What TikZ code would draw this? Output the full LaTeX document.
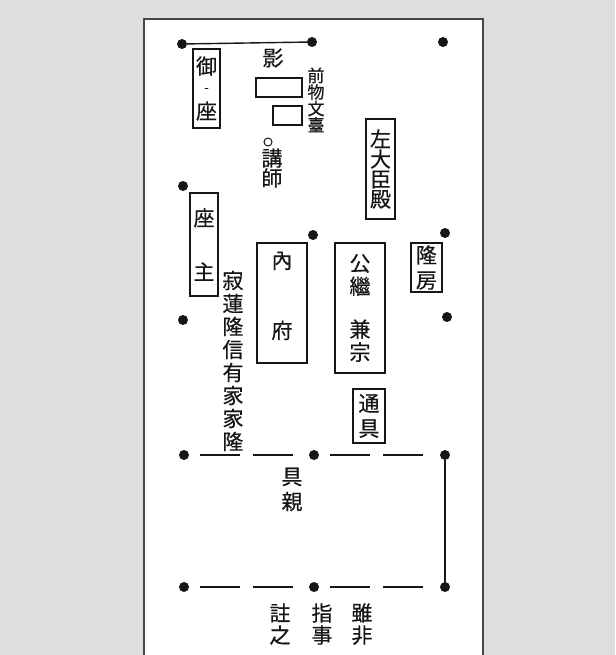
\documentclass[tikz,border=0pt]{standalone}
\usepackage{fontspec}
\newfontfamily\jpfont{Noto Sans CJK JP}[FakeBold=0.4]
\usepackage{xcolor}
\usepackage{tikz}
\usetikzlibrary{positioning}
\definecolor{pagegray}{RGB}{221, 222, 223}
\definecolor{pageedge}{RGB}{70, 70, 72}
\definecolor{inkblack}{RGB}{22, 22, 22}

\tikzset{
  pillar/.style={circle, fill=inkblack, inner sep=0pt, minimum size=10pt},
  seat/.style={draw=inkblack, line width=1.1pt, inner sep=0pt, align=center,
               text=inkblack, font=\jpfont\fontsize{21}{#1}\selectfont},
  tray/.style={draw=inkblack, line width=1.1pt, inner sep=0pt},
  tate/.style={align=center, inner sep=0pt, text=inkblack,
               font=\jpfont\fontsize{21}{#1}\selectfont},
  tatesmall/.style={align=center, inner sep=0pt, text=inkblack,
                    font=\jpfont\fontsize{17}{16.5}\selectfont},
  solidline/.style={draw=inkblack, line width=1.4pt},
  gapline/.style={draw=inkblack, line width=1.8pt, dash pattern=on 40pt off 13pt,
                  shorten <=11pt, shorten >=16pt},
}

\begin{document}
\begin{tikzpicture}[x=1pt, y=-1pt]
\useasboundingbox (0,0) rectangle (615,655);

% Background and page
\fill[pagegray] (0,0) rectangle (615,655);
\fill[white] (144,19) rectangle (483,655);
\draw[pageedge, line width=2pt] (144,655) -- (144,19) -- (483,19) -- (483,655);

% Pillars
\node[pillar] (a1) at (182,44) {};
\node[pillar] (a2) at (183,186) {};
\node[pillar] (a3) at (183,320) {};
\node[pillar] (a4) at (184,455) {};
\node[pillar] (a5) at (184,587) {};
\node[pillar] (b1) at (312,42) {};
\node[pillar] (b2) at (313,235) {};
\node[pillar] (b4) at (314,455) {};
\node[pillar] (b5) at (314,587) {};
\node[pillar] (c1) at (443,42) {};
\node[pillar] (c2) at (445,233) {};
\node[pillar] (c3) at (447,317) {};
\node[pillar] (c4) at (445,455) {};
\node[pillar] (c5) at (445,587) {};

% Walls and blinds
\draw[solidline] (a1) -- (b1);
\draw[gapline] (a4) -- (b4);
\draw[gapline] (b4) -- (c4);
\draw[gapline] (a5) -- (b5);
\draw[gapline] (b5) -- (c5);
\draw[solidline, line width=1.8pt] (c4) -- (c5);

% Throne, portrait and tables
\node[seat=45, minimum width=27pt, minimum height=79pt] (gyoza) at (206.5,88.5) {御\\座};
\node[text=inkblack, font=\jpfont\fontsize{12}{12}\selectfont] (gyodash) at (206.5,90) {-};
\node[tate=20] (kage) at (273,58) {影};
\node[tray, minimum width=46pt, minimum height=19pt] (maemono) at (279,87.5) {};
\node[tray, minimum width=29pt, minimum height=19pt] (bundai) at (287.5,115.5) {};
\node[tatesmall] (bundaitxt) at (316,100) {前\\物\\文\\臺};
\node[circle, draw=inkblack, line width=1pt, minimum size=8pt, inner sep=0pt] (koji) at (268,142) {};
\node[tate=20] (kojitxt) at (272,168) {講\\師};

% Left side
\node[seat=54, minimum width=28pt, minimum height=103pt] (zasu) at (204,244.5) {座\\主};
\node[tate=23] (poets) at (233,361) {寂\\蓮\\隆\\信\\有\\家\\家\\隆};

% Middle and right seats
\node[seat=20, minimum width=29pt, minimum height=100pt] (sadaijin) at (380.5,169) {左\\大\\臣\\殿};
\node[seat=70, minimum width=50pt, minimum height=120pt] (naifu) at (282,303) {內\\府\\[-54pt]\mbox{}};
\node[seat=23, minimum width=50pt, minimum height=130pt] (kintsugu) at (360,308) {公\\繼\\[20pt]兼\\宗};
\node[seat=25, minimum width=31pt, minimum height=49pt] (takafusa) at (426.5,267.5) {隆\\房};
\node[seat=25, minimum width=32pt, minimum height=54pt] (michitomo) at (369,416) {通\\具};

% Below the blinds
\node[tate=25] (tomochika) at (292,489.5) {具\\親};
\node[tate=22] (note1) at (362,624) {雖\\非};
\node[tate=22] (note2) at (322,624) {指\\事};
\node[tate=22] (note3) at (280,624) {註\\之};

\end{tikzpicture}
\end{document}
